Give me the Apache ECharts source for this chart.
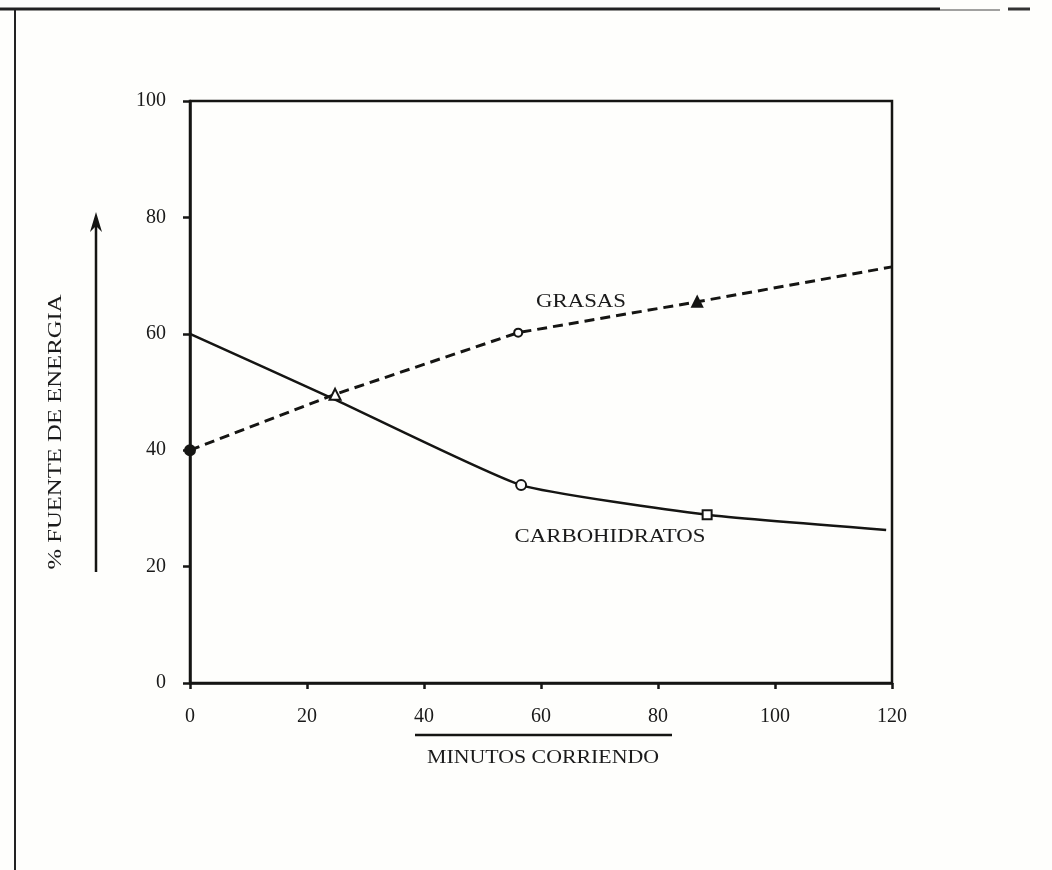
<!DOCTYPE html>
<html>
<head>
<meta charset="utf-8">
<script src="https://cdn.jsdelivr.net/npm/echarts@6/dist/echarts.min.js"></script>
<style>
  html, body { margin: 0; padding: 0; background: #fefefc; }
  #main { width: 1052px; height: 870px; }
</style>
</head>
<body>
<div id="main"></div>
<script>
var dom = document.getElementById('main');
var myChart = echarts.init(dom);

// valores
var grasasMin = [0, 24.8, 56.1, 86.7, 120];
var grasasPct = [40, 49.6, 60.2, 65.5, 71.5];
var carboMin = [0, 24.8, 56.6, 88.4, 119];
var carboPct = [60, 48.7, 34.0, 28.9, 26.3];
var xTicks = [0, 20, 40, 60, 80, 100, 120];
var yTicks = [0, 20, 40, 60, 80, 100];

var ink = '#151513';
var serif = '"Liberation Serif", "DejaVu Serif", serif';

// simbolos por punto (estilo)
var grasasMarks = [
    { symbol: 'circle', size: 10, fill: ink },
    { symbol: 'triangle', size: 11, fill: '#fff' },
    { symbol: 'circle', size: 8, fill: '#fff' },
    { symbol: 'triangle', size: 10, fill: ink },
    null
];
var carboMarks = [
    null,
    null,
    { symbol: 'circle', size: 10, fill: '#fff' },
    { symbol: 'rect', size: 9, fill: '#fff' },
    null
];

function buildData(xs, ys, marks) {
    return xs.map(function (x, i) {
        var m = marks[i];
        if (!m) {
            return { value: [x, ys[i]], symbol: 'none' };
        }
        return {
            value: [x, ys[i]],
            symbol: m.symbol,
            symbolSize: m.size,
            itemStyle: { color: m.fill, borderColor: ink, borderWidth: 2 }
        };
    });
}

var option = {
    backgroundColor: '#fefefc',
    animation: false,
    grid: {
        left: 190, right: 160, top: 101, bottom: 187,
        show: true, borderColor: ink, borderWidth: 2.5
    },
    xAxis: {
        type: 'value',
        min: xTicks[0], max: xTicks[xTicks.length - 1], interval: 20,
        axisLine: { show: true, lineStyle: { color: ink, width: 2.5 } },
        axisTick: { show: true, inside: false, length: 6, lineStyle: { color: ink, width: 2.5 } },
        axisLabel: {
            color: '#1a1a1a', fontFamily: serif, fontSize: 20, margin: 24,
            formatter: function (v) { return xTicks.indexOf(v) >= 0 ? String(v) : ''; }
        },
        splitLine: { show: false }
    },
    yAxis: {
        type: 'value',
        min: yTicks[0], max: yTicks[yTicks.length - 1], interval: 20,
        axisLine: { show: true, lineStyle: { color: ink, width: 2.5 } },
        axisTick: { show: true, inside: false, length: 7, lineStyle: { color: ink, width: 2.5 } },
        axisLabel: {
            color: '#1a1a1a', fontFamily: serif, fontSize: 20, margin: 24,
            formatter: function (v) { return yTicks.indexOf(v) >= 0 ? String(v) : ''; }
        },
        splitLine: { show: false }
    },
    series: [
        {
            name: 'GRASAS',
            type: 'line',
            smooth: false,
            data: buildData(grasasMin, grasasPct, grasasMarks),
            lineStyle: { color: ink, width: 3, type: [10, 6] },
            z: 3
        },
        {
            name: 'CARBOHIDRATOS',
            type: 'line',
            smooth: 0.15,
            data: buildData(carboMin, carboPct, carboMarks),
            lineStyle: { color: ink, width: 2.5, type: 'solid' },
            z: 2
        }
    ],
    graphic: [
        // marco de la pagina
        { type: 'line', shape: { x1: 0, y1: 9, x2: 940, y2: 9 }, style: { stroke: '#222', lineWidth: 3 } },
        { type: 'line', shape: { x1: 940, y1: 10, x2: 1000, y2: 10 }, style: { stroke: '#444', lineWidth: 1 } },
        { type: 'line', shape: { x1: 1008, y1: 9, x2: 1030, y2: 9 }, style: { stroke: '#333', lineWidth: 3 } },
        { type: 'line', shape: { x1: 15, y1: 10, x2: 15, y2: 870 }, style: { stroke: '#222', lineWidth: 2 } },
        // flecha eje y
        { type: 'line', shape: { x1: 96, y1: 572, x2: 96, y2: 222 }, style: { stroke: ink, lineWidth: 2.5 } },
        { type: 'polygon', shape: { points: [[96, 212], [90, 232], [96, 226], [102, 232]] }, style: { fill: ink } },
        // titulo eje y
        {
            type: 'text', x: 56, y: 432, rotation: Math.PI / 2, scaleX: 1.3,
            style: { text: '% FUENTE DE ENERGIA', fill: '#1a1a1a', fontFamily: serif, fontSize: 19, align: 'center', verticalAlign: 'middle' }
        },
        // titulo eje x
        { type: 'line', shape: { x1: 415, y1: 735, x2: 672, y2: 735 }, style: { stroke: ink, lineWidth: 2.5 } },
        {
            type: 'text', x: 543, y: 758, scaleX: 1.15,
            style: { text: 'MINUTOS CORRIENDO', fill: '#1a1a1a', fontFamily: serif, fontSize: 19, align: 'center', verticalAlign: 'middle' }
        },
        // etiquetas de series
        {
            type: 'text', x: 581, y: 302, scaleX: 1.2,
            style: { text: 'GRASAS', fill: '#1a1a1a', fontFamily: serif, fontSize: 19, align: 'center', verticalAlign: 'middle' }
        },
        {
            type: 'text', x: 610, y: 537, scaleX: 1.2,
            style: { text: 'CARBOHIDRATOS', fill: '#1a1a1a', fontFamily: serif, fontSize: 19, align: 'center', verticalAlign: 'middle' }
        }
    ]
};

if (option && typeof option === 'object') {
    myChart.setOption(option, true);
}
</script>
</body>
</html>
